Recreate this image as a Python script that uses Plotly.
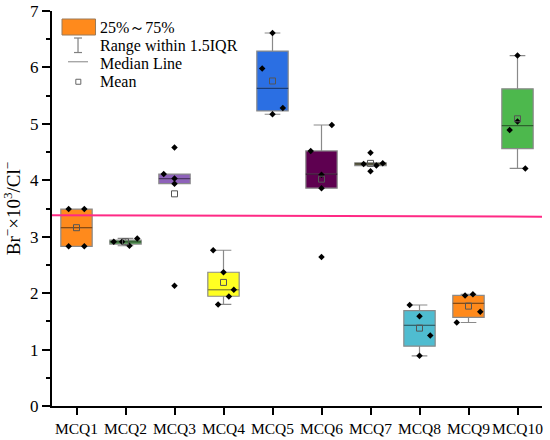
import plotly.graph_objects as go

categories = ["MCQ1", "MCQ2", "MCQ3", "MCQ4", "MCQ5", "MCQ6", "MCQ7", "MCQ8", "MCQ9", "MCQ10"]

q1 = [2.83, 2.87, 3.94, 1.945, 5.23, 3.86, 4.26, 1.06, 1.57, 4.56]
median = [3.16, 2.91, 4.03, 2.06, 5.63, 4.11, 4.29, 1.43, 1.82, 4.97]
q3 = [3.49, 2.94, 4.11, 2.37, 6.29, 4.52, 4.31, 1.69, 1.96, 5.62]
lower_whisker = [2.83, 2.84, 3.94, 1.80, 5.17, 3.86, 4.26, 0.89, 1.48, 4.21]
upper_whisker = [3.49, 2.97, 4.11, 2.76, 6.61, 4.98, 4.31, 1.79, 1.98, 6.21]
means = [3.16, 2.91, 3.76, 2.19, 5.76, 4.02, 4.30, 1.38, 1.77, 5.09]

points = [
    [3.49, 3.49, 2.83, 2.83],
    [2.91, 2.91, 2.84, 2.97],
    [4.11, 4.03, 3.94, 4.58, 2.13],
    [2.76, 2.37, 2.06, 1.94, 1.80],
    [6.61, 5.98, 5.28, 5.17],
    [4.98, 4.52, 4.10, 3.86, 2.64],
    [4.49, 4.29, 4.26, 4.30, 4.16],
    [1.79, 1.59, 1.25, 0.89],
    [1.96, 1.98, 1.67, 1.48],
    [6.21, 5.04, 4.89, 4.21],
]
point_jitter = [
    [-0.16, 0.16, -0.16, 0.16],
    [-0.24, -0.07, 0.08, 0.24],
    [-0.22, 0.0, 0.0, 0.0, 0.0],
    [-0.21, 0.0, 0.21, 0.11, -0.11],
    [0.0, -0.21, 0.21, 0.0],
    [0.21, -0.22, 0.0, 0.0, 0.0],
    [0.0, -0.14, 0.12, 0.25, 0.0],
    [-0.20, 0.0, 0.22, 0.0],
    [-0.07, 0.09, 0.24, -0.24],
    [0.0, 0.0, -0.16, 0.16],
]

reference_line = [3.38, 3.355]

fill_colors = ["#FF8A1C", "#3DA33D", "#8E62BA", "#FFFF22", "#2B6FE3",
               "#5E0050", "#6B6A3C", "#4FBCD0", "#FF8A1C", "#4DB84D"]

legend_labels = ["25%～75%", "Range within 1.5IQR", "Median Line", "Mean"]


def darker(hexc, f=0.55):
    h = hexc.lstrip("#")
    r, g, b = (int(h[i:i + 2], 16) for i in (0, 2, 4))
    return "rgb(%d,%d,%d)" % (r * f, g * f, b * f)


FONT = "Liberation Serif, Times New Roman, serif"
BOXW = 0.64
fig = go.Figure()

for i, cat in enumerate(categories):
    fig.add_trace(go.Box(
        x=[i], q1=[q1[i]], median=[median[i]], q3=[q3[i]],
        lowerfence=[lower_whisker[i]], upperfence=[upper_whisker[i]],
        width=BOXW, whiskerwidth=0.5, fillcolor=fill_colors[i],
        line=dict(color="#8a8a8a", width=1.2), boxpoints=False,
        showlegend=False, hoverinfo="skip"))

for i, cat in enumerate(categories):
    fig.add_trace(go.Scatter(
        x=[i - BOXW / 2, i + BOXW / 2], y=[median[i], median[i]], mode="lines",
        line=dict(color=darker(fill_colors[i]), width=1.2),
        showlegend=False, hoverinfo="skip"))

for i, cat in enumerate(categories):
    fig.add_trace(go.Scatter(
        x=[i + d for d in point_jitter[i]], y=points[i], mode="markers",
        marker=dict(symbol="diamond", size=5, color="black"),
        showlegend=False, hoverinfo="skip"))

fig.add_trace(go.Scatter(
    x=list(range(len(categories))), y=means, mode="markers",
    marker=dict(symbol="square-open", size=6, color="#555555", line=dict(width=1)),
    showlegend=False, hoverinfo="skip"))

fig.add_trace(go.Scatter(
    x=[-0.5, len(categories) - 0.5], y=reference_line, mode="lines",
    line=dict(color="#FF2A85", width=2), showlegend=False, hoverinfo="skip"))

# manual legend (pixel helpers relative to plot area)
L, R, T, B = 52, 8.3, 11, 34.3
PW, PH = 550 - L - R, 440 - T - B


def px(x):
    return (x - L) / PW


def py(y):
    return (440 - B - y) / PH


shapes = [
    dict(type="rect", xref="paper", yref="paper", x0=px(62), x1=px(95.5), y0=py(35), y1=py(19),
         fillcolor="#FF8A1C", line=dict(color="#9a7a5a", width=1)),
    dict(type="line", xref="paper", yref="paper", x0=px(78), x1=px(78), y0=py(52.5), y1=py(38),
         line=dict(color="#808080", width=1.2)),
    dict(type="line", xref="paper", yref="paper", x0=px(74), x1=px(82), y0=py(38), y1=py(38),
         line=dict(color="#808080", width=1.2)),
    dict(type="line", xref="paper", yref="paper", x0=px(74), x1=px(82), y0=py(52.5), y1=py(52.5),
         line=dict(color="#808080", width=1.2)),
    dict(type="line", xref="paper", yref="paper", x0=px(68), x1=px(88), y0=py(61.7), y1=py(61.7),
         line=dict(color="#999999", width=1.2)),
    dict(type="rect", xref="paper", yref="paper", x0=px(75.8), x1=px(80.8), y0=py(84.2), y1=py(79.2),
         line=dict(color="#666666", width=1), fillcolor="white"),
]
annotations = []
for lab, yy in zip(legend_labels, [27.5, 45.5, 63, 81.5]):
    annotations.append(dict(x=px(98), y=py(yy), xref="paper", yref="paper", text=lab,
                            showarrow=False, xanchor="left", yanchor="middle",
                            font=dict(family=FONT, size=16, color="black")))

fig.update_layout(
    width=550, height=440,
    margin=dict(l=L, r=R, t=T, b=B, autoexpand=False),
    paper_bgcolor="white", plot_bgcolor="white",
    font=dict(family=FONT, size=16, color="black"),
    shapes=shapes, annotations=annotations,
    showlegend=False,
)
fig.update_xaxes(
    range=[-0.5, len(categories) - 0.5],
    tickvals=list(range(len(categories))), ticktext=categories,
    tickangle=0, automargin=False,
    showline=True, linecolor="black", linewidth=2,
    ticks="outside", ticklen=7, tickwidth=1.5, tickcolor="black",
    showgrid=False, zeroline=False,
    tickfont=dict(family=FONT, size=15.5),
)
fig.update_yaxes(
    range=[0, 7], dtick=1, automargin=False,
    showline=True, linecolor="black", linewidth=2,
    ticks="outside", ticklen=8, tickwidth=1.5, tickcolor="black",
    minor=dict(dtick=0.5, ticks="outside", ticklen=4, tickwidth=1.5, tickcolor="black"),
    showgrid=False, zeroline=False,
    tickfont=dict(family=FONT, size=17),
    title=dict(text="Br<sup>−</sup>×10<sup>3</sup>/Cl<sup>−</sup>",
               font=dict(family=FONT, size=19), standoff=8),
)

fig.write_html("out.html", config={"displayModeBar": False},
               post_script="document.body.style.margin='0';")
